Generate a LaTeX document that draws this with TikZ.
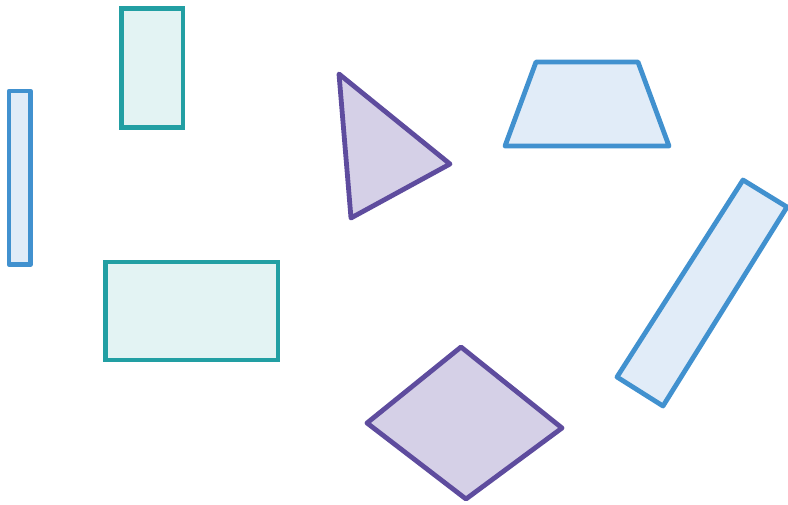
\documentclass[tikz,border=0pt]{standalone}
\usepackage{xcolor}
\usepackage{tikz}
\definecolor{shapeblue}{HTML}{4191CF}
\definecolor{fillblue}{HTML}{E1ECF8}
\definecolor{shapeteal}{HTML}{229FA3}
\definecolor{fillteal}{HTML}{E3F3F3}
\definecolor{shapepurple}{HTML}{5E4C9E}
\definecolor{fillpurple}{HTML}{D5D0E7}

\begin{document}
\begin{tikzpicture}[
  x=1pt, y=-1pt,
  blueshape/.style={draw=shapeblue, fill=fillblue, line width=4.8pt, line join=round},
  tealshape/.style={draw=shapeteal, fill=fillteal, line width=4.8pt},
  purpleshape/.style={draw=shapepurple, fill=fillpurple, line width=4.8pt, line join=round}
]
\useasboundingbox (0,0) rectangle (788,504);
% rectangles
\draw[blueshape] (9,91) rectangle (30.5,264.5);
\draw[tealshape] (121.5,8.5) rectangle (183,127.5);
\draw[tealshape] (105.5,262) rectangle (278,360);
% triangle and diamond
\draw[purpleshape] (339,74) -- (450,164) -- (351,218) -- cycle;
\draw[purpleshape] (461,347) -- (562,428) -- (466,499) -- (367,423) -- cycle;
% trapezoid and tilted bar
\draw[blueshape] (536,62) -- (638,62) -- (669,146) -- (505,146) -- cycle;
\draw[blueshape] (743,180) -- (787,207) -- (663,406) -- (617,377) -- cycle;
\end{tikzpicture}
\end{document}
